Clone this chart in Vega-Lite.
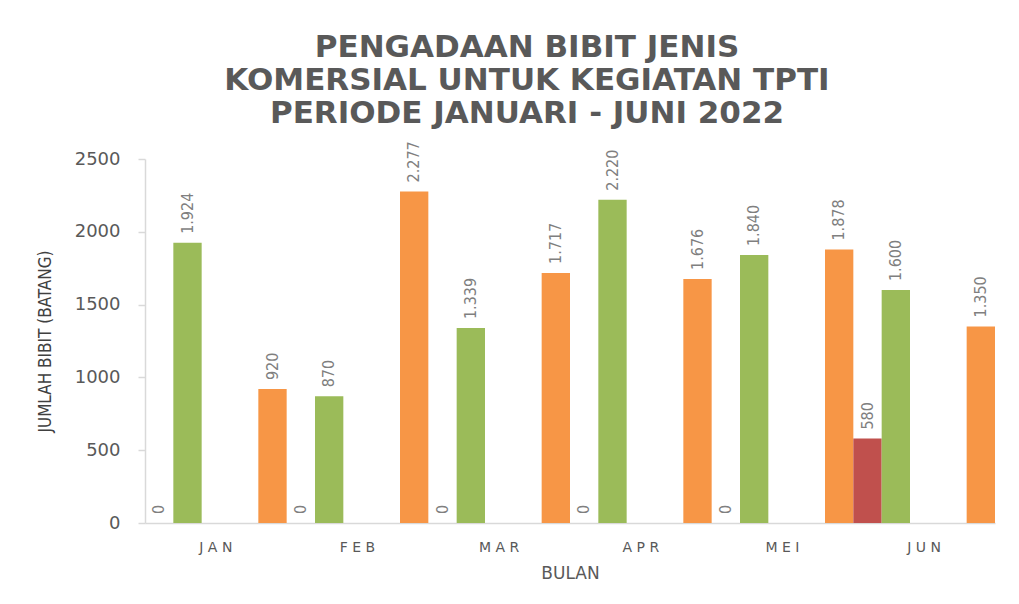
{
  "$schema": "https://vega.github.io/schema/vega-lite/v6.json",
  "width": 850,
  "height": 364,
  "autosize": {"type": "none"},
  "padding": {"left": 145, "top": 159, "right": 24, "bottom": 81},
  "background": "white",
  "title": {
    "text": ["PENGADAAN BIBIT JENIS", "KOMERSIAL UNTUK KEGIATAN TPTI", "PERIODE JANUARI - JUNI 2022"],
    "anchor": "middle",
    "frame": "group",
    "dx": -43,
    "offset": 11,
    "font": "DejaVu Sans",
    "fontSize": 31,
    "fontWeight": "bold",
    "color": "#595959",
    "lineHeight": 33
  },
  "data": {
    "values": [
      {"bulan": "JAN", "seri": "a", "nilai": 0},
      {"bulan": "JAN", "seri": "b", "nilai": 1924},
      {"bulan": "JAN", "seri": "e", "nilai": 920},
      {"bulan": "FEB", "seri": "a", "nilai": 0},
      {"bulan": "FEB", "seri": "b", "nilai": 870},
      {"bulan": "FEB", "seri": "e", "nilai": 2277},
      {"bulan": "MAR", "seri": "a", "nilai": 0},
      {"bulan": "MAR", "seri": "b", "nilai": 1339},
      {"bulan": "MAR", "seri": "e", "nilai": 1717},
      {"bulan": "APR", "seri": "a", "nilai": 0},
      {"bulan": "APR", "seri": "b", "nilai": 2220},
      {"bulan": "APR", "seri": "e", "nilai": 1676},
      {"bulan": "MEI", "seri": "a", "nilai": 0},
      {"bulan": "MEI", "seri": "b", "nilai": 1840},
      {"bulan": "MEI", "seri": "e", "nilai": 1878},
      {"bulan": "JUN", "seri": "a", "nilai": 580},
      {"bulan": "JUN", "seri": "b", "nilai": 1600},
      {"bulan": "JUN", "seri": "e", "nilai": 1350}
    ]
  },
  "encoding": {
    "x": {
      "field": "bulan",
      "type": "nominal",
      "sort": ["JAN", "FEB", "MAR", "APR", "MEI", "JUN"],
      "scale": {"paddingInner": 0, "paddingOuter": 0},
      "axis": {
        "title": "BULAN",
        "labelAngle": 0,
        "labelExpr": "join(split(datum.label, ''), ' ')",
        "ticks": false,
        "labelPadding": 17,
        "labelFont": "DejaVu Sans",
        "labelFontSize": 14,
        "labelColor": "#595959",
        "titleFont": "DejaVu Sans",
        "titleFontSize": 17,
        "titleFontWeight": "normal",
        "titleColor": "#595959",
        "titlePadding": 11,
        "domainColor": "#d9d9d9",
        "domainWidth": 1.5
      }
    },
    "xOffset": {
      "field": "seri",
      "type": "nominal",
      "scale": {"domain": ["a", "b", "c", "d", "e"], "paddingInner": 0, "paddingOuter": 0}
    },
    "y": {
      "field": "nilai",
      "type": "quantitative",
      "scale": {"domain": [0, 2500]},
      "axis": {
        "title": "JUMLAH BIBIT (BATANG)",
        "format": "d",
        "values": [0, 500, 1000, 1500, 2000, 2500],
        "grid": false,
        "ticks": true,
        "tickSize": 7,
        "tickColor": "#d9d9d9",
        "tickWidth": 1.5,
        "labelPadding": 18,
        "labelFont": "DejaVu Sans",
        "labelFontSize": 18,
        "labelColor": "#595959",
        "titleFont": "'DejaVu Sans Condensed', Roboto",
        "titleFontSize": 17,
        "titleFontWeight": "normal",
        "titleColor": "#404040",
        "titlePadding": 20,
        "domainColor": "#d9d9d9",
        "domainWidth": 1.5
      }
    }
  },
  "layer": [
    {
      "mark": {"type": "bar"},
      "encoding": {
        "color": {
          "field": "seri",
          "type": "nominal",
          "scale": {"domain": ["a", "b", "c", "d", "e"], "range": ["#C0504D", "#9BBB59", "#ffffff", "#ffffff", "#F79646"]},
          "legend": null
        }
      }
    },
    {
      "mark": {
        "type": "text",
        "angle": 270,
        "align": "left",
        "baseline": "middle",
        "dx": 9,
        "font": "'DejaVu Sans Condensed', Roboto",
        "fontSize": 16,
        "color": "#7f7f7f"
      },
      "encoding": {
        "text": {"field": "nilai", "type": "quantitative", "format": ",d"}
      }
    }
  ],
  "config": {
    "view": {"stroke": null},
    "locale": {
      "number": {"decimal": ",", "thousands": ".", "grouping": [3], "currency": ["", ""]}
    }
  }
}
